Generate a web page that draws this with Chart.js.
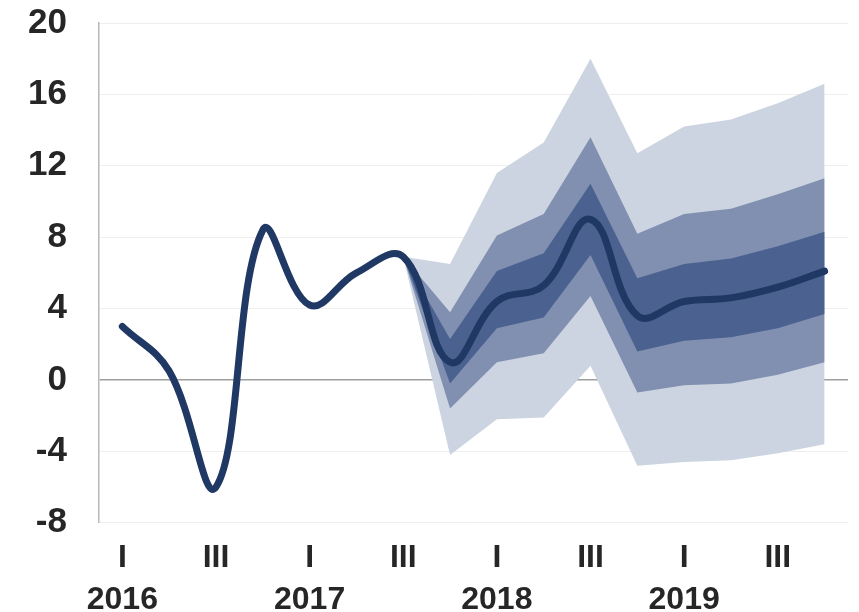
<!DOCTYPE html>
<html>
<head>
<meta charset="utf-8">
<script src="https://cdn.jsdelivr.net/npm/chart.js@4.4.0/dist/chart.umd.min.js"></script>
<style>
  body { margin: 0; background: #fff; }
</style>
</head>
<body>
<canvas id="myChart" width="859" height="612"></canvas>
<script>
// Trimestres 2016 - 2019
const quarters = ['I', 'II', 'III', 'IV', 'I', 'II', 'III', 'IV', 'I', 'II', 'III', 'IV', 'I', 'II', 'III', 'IV'];
const years = ['2016', '', '', '', '2017', '', '', '', '2018', '', '', '', '2019', '', '', ''];

// Série centrale
const central = [3.0, 0.5, -6.0, 8.4, 4.2, 6.0, 6.9, 1.0, 4.4, 5.3, 9.0, 3.6, 4.4, 4.6, 5.2, 6.1];

// Bandes de l'éventail (haut / bas)
const innerUp  = [null, null, null, null, null, null, 6.9, 2.3, 6.1, 7.1, 11.0, 5.7, 6.5, 6.8, 7.5, 8.3];
const innerLow = [null, null, null, null, null, null, 6.9, -0.2, 2.9, 3.5, 7.0, 1.6, 2.2, 2.4, 2.9, 3.7];
const midUp    = [null, null, null, null, null, null, 6.9, 3.8, 8.1, 9.3, 13.6, 8.2, 9.3, 9.6, 10.4, 11.3];
const midLow   = [null, null, null, null, null, null, 6.9, -1.6, 1.0, 1.5, 4.7, -0.7, -0.3, -0.2, 0.3, 1.0];
const outerUp  = [null, null, null, null, null, null, 6.9, 6.5, 11.6, 13.3, 18.0, 12.7, 14.2, 14.6, 15.5, 16.6];
const outerLow = [null, null, null, null, null, null, 6.9, -4.2, -2.2, -2.1, 0.8, -4.8, -4.6, -4.5, -4.1, -3.6];

const band = (data, color, target, order) => ({
    data: data,
    borderWidth: 0,
    pointRadius: 0,
    tension: 0,
    backgroundColor: color,
    fill: target === null ? false : { target: target },
    order: order
});

const ctx = document.getElementById('myChart').getContext('2d');
const myChart = new Chart(ctx, {
    type: 'line',
    data: {
        labels: quarters,
        datasets: [
            {
                data: central,
                borderColor: '#1f3864',
                borderWidth: 7,
                borderCapStyle: 'round',
                borderJoinStyle: 'round',
                pointRadius: 0,
                tension: 0.4,
                fill: false,
                order: 0
            },
            band(innerUp, '#4b6290', 2, 1),
            band(innerLow, '#4b6290', null, 1),
            band(midUp, '#8190b0', 4, 2),
            band(midLow, '#8190b0', null, 2),
            band(outerUp, '#ccd3e1', 6, 3),
            band(outerLow, '#ccd3e1', null, 3)
        ]
    },
    options: {
        responsive: false,
        animation: false,
        layout: { padding: { left: 28, right: 11, top: 23, bottom: -16 } },
        plugins: {
            legend: { display: false },
            tooltip: { enabled: false }
        },
        scales: {
            x: {
                offset: true,
                grid: { display: false },
                border: { display: false },
                ticks: {
                    autoSkip: false,
                    maxRotation: 0,
                    padding: 7,
                    color: '#262626',
                    font: { family: 'Liberation Sans, Arial, sans-serif', size: 32, weight: 'bold', lineHeight: 1.3 },
                    callback: function (value, index) {
                        const q = quarters[index];
                        if (q === 'I') return [q, years[index]];
                        if (q === 'III') return [q, ''];
                        return '';
                    }
                }
            },
            y: {
                min: -8,
                max: 20,
                ticks: {
                    stepSize: 4,
                    padding: 0,
                    color: '#262626',
                    font: { family: 'Liberation Sans, Arial, sans-serif', size: 35, weight: 'bold' }
                },
                grid: {
                    drawTicks: true,
                    tickLength: 32,
                    tickColor: 'rgba(0,0,0,0)',
                    color: (c) => c.tick && c.tick.value === 0 ? '#9e9e9e' : '#eeeeee',
                    lineWidth: (c) => c.tick && c.tick.value === 0 ? 1.5 : 1
                },
                border: { display: true, color: '#b8b8b8', width: 1.5 }
            }
        }
    }
});
</script>
</body>
</html>
